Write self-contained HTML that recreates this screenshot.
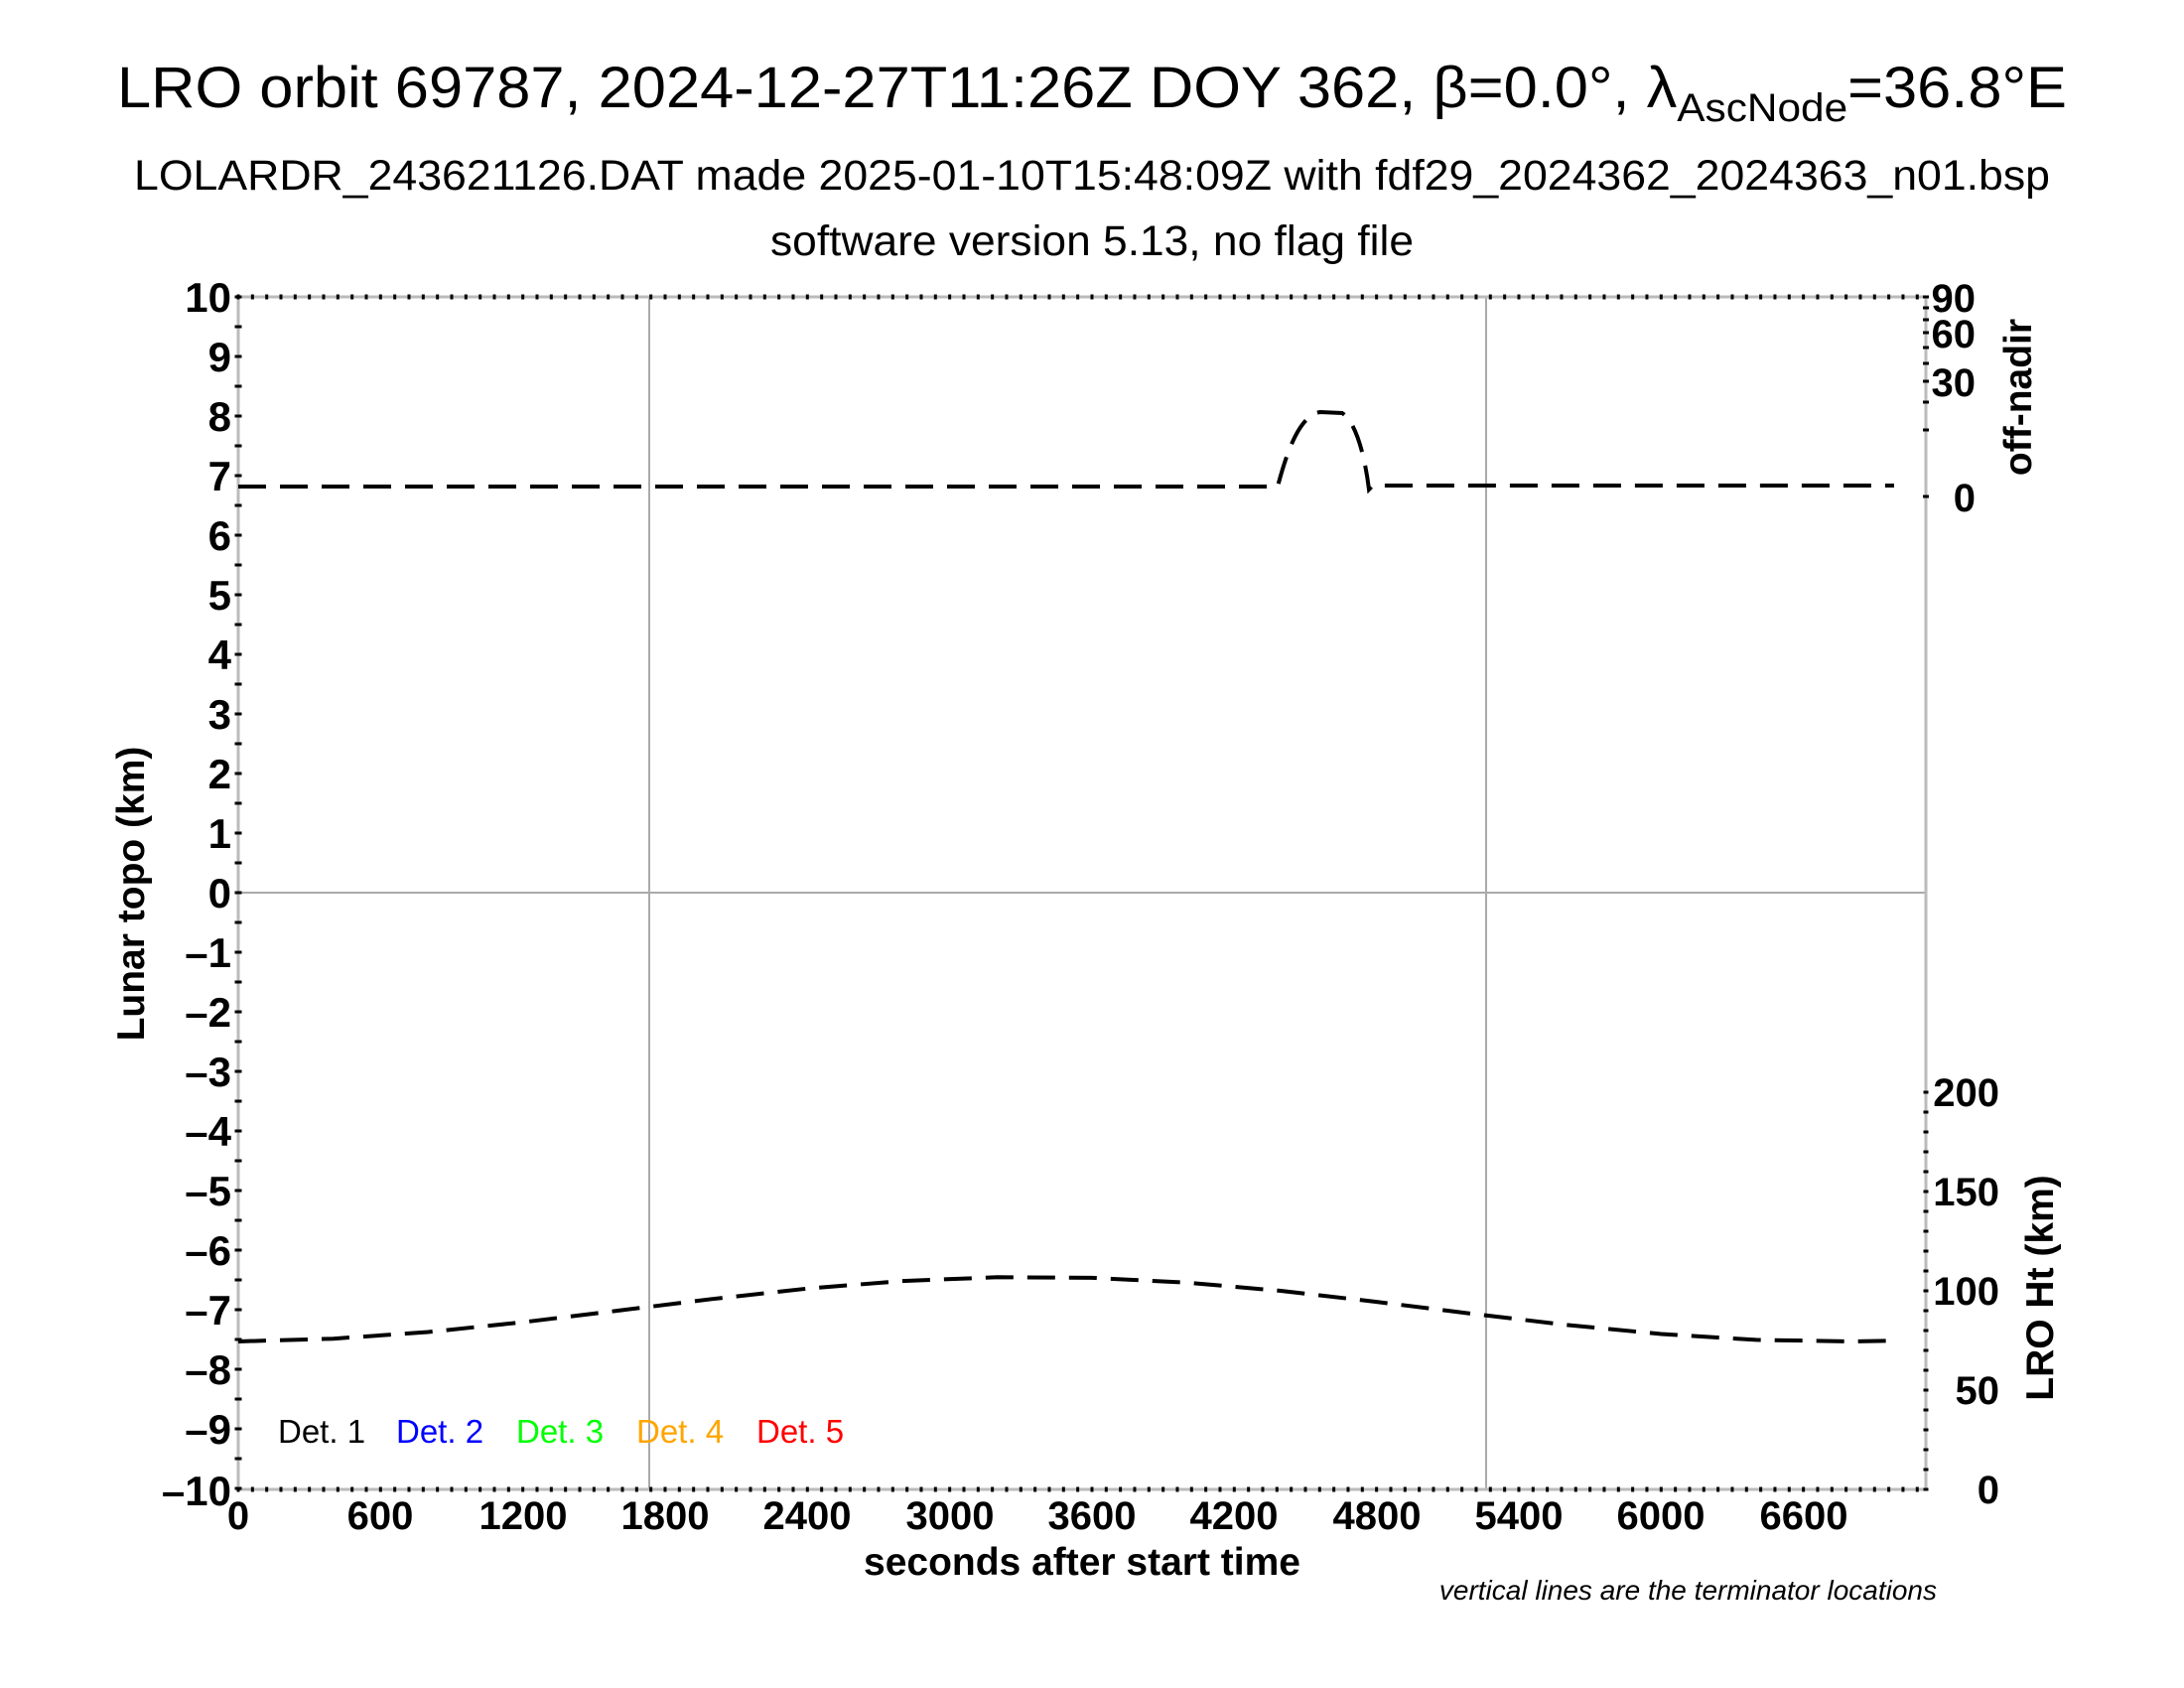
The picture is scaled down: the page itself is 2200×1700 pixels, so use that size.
<!DOCTYPE html>
<html><head><meta charset="utf-8"><style>html,body{margin:0;padding:0;background:#fff}svg{display:block}</style></head>
<body>
<svg width="2200" height="1700" viewBox="0 0 2200 1700" xmlns="http://www.w3.org/2000/svg" font-family="Liberation Sans, Arial, sans-serif">
<rect width="2200" height="1700" fill="#fff"/>
<text x="1100" y="108" font-size="58" text-anchor="middle" textLength="1964" lengthAdjust="spacingAndGlyphs">LRO orbit 69787, 2024-12-27T11:26Z DOY 362, β=0.0°, λ<tspan font-size="40" dy="14">AscNode</tspan><tspan dy="-14">=36.8°E</tspan></text>
<text x="1100" y="191" font-size="43" text-anchor="middle" textLength="1930" lengthAdjust="spacingAndGlyphs">LOLARDR_243621126.DAT made 2025-01-10T15:48:09Z with fdf29_2024362_2024363_n01.bsp</text>
<text x="1100" y="257" font-size="43" text-anchor="middle" textLength="648" lengthAdjust="spacingAndGlyphs">software version 5.13, no flag file</text>
<line x1="654" y1="299" x2="654" y2="1500" stroke="#aaa" stroke-width="2"/>
<line x1="1497" y1="299" x2="1497" y2="1500" stroke="#aaa" stroke-width="2"/>
<line x1="240" y1="899" x2="1940" y2="899" stroke="#aaa" stroke-width="2"/>
<rect x="240" y="299" width="1700" height="1201" fill="none" stroke="#bbb" stroke-width="3"/>
<line x1="240" y1="297.5" x2="240" y2="1502" stroke="#000" stroke-width="7" stroke-dasharray="3 27"/>
<line x1="238.5" y1="299" x2="1942" y2="299" stroke="#000" stroke-width="5" stroke-dasharray="3 11.333"/>
<line x1="238.5" y1="1500" x2="1942" y2="1500" stroke="#000" stroke-width="5" stroke-dasharray="3 11.333"/>
<line x1="1940" y1="1098.5" x2="1940" y2="1502" stroke="#000" stroke-width="5" stroke-dasharray="3 17"/>
<g stroke="#000" stroke-width="3">
<line x1="1937" y1="299" x2="1943" y2="299"/><line x1="1937" y1="310" x2="1943" y2="310"/><line x1="1937" y1="322" x2="1943" y2="322"/><line x1="1937" y1="335" x2="1943" y2="335"/><line x1="1937" y1="350" x2="1943" y2="350"/><line x1="1937" y1="366" x2="1943" y2="366"/><line x1="1937" y1="384" x2="1943" y2="384"/><line x1="1937" y1="405" x2="1943" y2="405"/><line x1="1937" y1="433" x2="1943" y2="433"/><line x1="1937" y1="500" x2="1943" y2="500"/>
</g>
<g font-size="42" font-weight="bold" text-anchor="end">
<text x="233" y="314">10</text><text x="233" y="374">9</text><text x="233" y="434">8</text><text x="233" y="494">7</text><text x="233" y="554">6</text><text x="233" y="614">5</text><text x="233" y="674">4</text><text x="233" y="734">3</text><text x="233" y="794">2</text><text x="233" y="854">1</text><text x="233" y="914">0</text>
<text x="233" y="974">–1</text><text x="233" y="1034">–2</text><text x="233" y="1094">–3</text><text x="233" y="1154">–4</text><text x="233" y="1214">–5</text><text x="233" y="1274">–6</text><text x="233" y="1334">–7</text><text x="233" y="1394">–8</text><text x="233" y="1454">–9</text><text x="233" y="1516">–10</text>
</g>
<g font-size="40" font-weight="bold" text-anchor="middle">
<text x="240" y="1540">0</text><text x="383" y="1540">600</text><text x="527" y="1540">1200</text><text x="670" y="1540">1800</text><text x="813" y="1540">2400</text><text x="957" y="1540">3000</text><text x="1100" y="1540">3600</text><text x="1243" y="1540">4200</text><text x="1387" y="1540">4800</text><text x="1530" y="1540">5400</text><text x="1673" y="1540">6000</text><text x="1817" y="1540">6600</text>
</g>
<g font-size="40" font-weight="bold" text-anchor="end">
<text x="1990" y="314">90</text><text x="1990" y="350">60</text><text x="1990" y="399">30</text><text x="1990" y="515">0</text>
<text x="2014" y="1114">200</text><text x="2014" y="1214">150</text><text x="2014" y="1314">100</text><text x="2014" y="1414">50</text><text x="2014" y="1514">0</text>
</g>
<text x="1090" y="1586" font-size="39" font-weight="bold" text-anchor="middle">seconds after start time</text>
<text transform="translate(145,900) rotate(-90)" font-size="39" font-weight="bold" text-anchor="middle">Lunar topo (km)</text>
<text transform="translate(2046,400) rotate(-90)" font-size="39" font-weight="bold" text-anchor="middle">off-nadir</text>
<text transform="translate(2068,1297) rotate(-90)" font-size="39" font-weight="bold" text-anchor="middle">LRO Ht (km)</text>
<text x="1951" y="1611" font-size="28" font-style="italic" text-anchor="end">vertical lines are the terminator locations</text>
<g font-size="33">
<text x="280" y="1453" fill="#000">Det. 1</text><text x="399" y="1453" fill="#0000ff">Det. 2</text><text x="520" y="1453" fill="#00ff00">Det. 3</text><text x="641" y="1453" fill="#ffa500">Det. 4</text><text x="762" y="1453" fill="#ff0000">Det. 5</text>
</g>
<g fill="none" stroke="#000" stroke-width="4" stroke-dasharray="28 14">
<path d="M240 490 L1287 490 C1295 460 1308 418 1330 415 L1352 416 C1366 425 1375 460 1379 493 L1383 489 L1908 489"/>
<polyline points="240,1351 335.6,1348.2 431.1,1341.5 526.7,1331.6 622.2,1320 717.8,1308.2 813.4,1297.7 908.9,1290.1 1004.5,1286.3 1100,1286.9 1195.6,1291.7 1291.2,1300.1 1386.7,1311.1 1482.3,1323 1577.8,1334.3 1673.4,1343.5 1769,1349.4 1864.5,1351 1908,1350.2"/>
</g>
</svg>
</body></html>
